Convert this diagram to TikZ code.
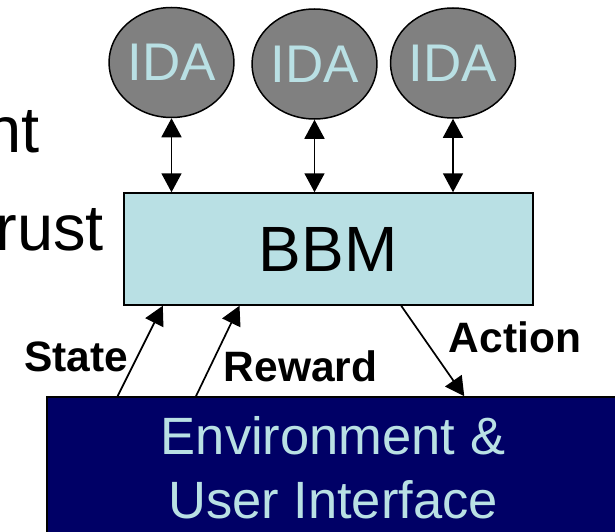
\documentclass[tikz,border=0pt]{standalone}
\usepackage{fontspec}
\setmainfont{Liberation Sans}
\usetikzlibrary{shapes.geometric,arrows.meta}
\definecolor{paleblue}{HTML}{B9E0E4}
\definecolor{agentgray}{HTML}{808080}
\definecolor{envnavy}{HTML}{000066}
\tikzset{
  agent/.style={ellipse, draw=black, line width=1.5pt, fill=agentgray,
    minimum width=107pt, minimum height=110pt, inner sep=0pt,
    text=paleblue, font=\fontsize{53}{60}\selectfont},
  bbmbox/.style={rectangle, draw=black, line width=1.5pt, fill=paleblue,
    minimum width=409pt, minimum height=112pt, inner sep=0pt,
    font=\fontsize{64}{70}\selectfont},
  envbox/.style={rectangle, draw=black, line width=1.5pt, fill=envnavy,
    minimum width=573pt, minimum height=143pt, inner sep=0pt},
  envtext/.style={inner sep=0pt, text=paleblue, font=\fontsize{52.5}{60}\selectfont},
  sidetext/.style={inner sep=0pt, font=\fontsize{65}{72}\selectfont},
  flowlabel/.style={inner sep=0pt, font=\bfseries\fontsize{42.5}{48}\selectfont},
  head/.tip={Triangle[width=20pt 0 0,length=19pt 0 0]},
  link/.style={line width=1.7pt, -head},
  dbl/.style={line width=1.7pt, head-head}
}
\begin{document}
\begin{tikzpicture}[x=1pt,y=-1pt]
\useasboundingbox (0,0) rectangle (615,532);
\begin{scope}
\clip (0,0) rectangle (615,532);

% slide text running in from the left edge
\node[sidetext, anchor=base east] (sidea) at (40,152) {nt};
\node[sidetext, anchor=base east] (sideb) at (104,250) {rust};

% environment block
\node[envbox] (env) at (333.5,468.5) {};
\node[envtext, anchor=base] (envl1) at (333,454.3) {Environment \&};
\node[envtext, anchor=base] (envl2) at (333,518) {User Interface};

% behaviour module
\node[bbmbox] (bbm) at (328.25,249) {BBM};

% agents
\node[agent] (ida1) at (171.5,62.5) {IDA};
\node[agent] (ida2) at (314.5,64) {IDA};
\node[agent] (ida3) at (453,63) {IDA};
\end{scope}

% agent <-> module links
\draw[dbl] (ida1.south) -- (ida1.south |- bbm.north);
\draw[dbl] (ida2.south) -- (ida2.south |- bbm.north);
\draw[dbl] (ida3.south) -- (ida3.south |- bbm.north);

% environment <-> module flows
\draw[link] ([xshift=71.3pt]env.north west) -- ([xshift=39.8pt]bbm.south west);
\draw[link] ([xshift=149.7pt]env.north west) -- ([xshift=116.5pt]bbm.south west);
\draw[link] ([xshift=278.2pt]bbm.south west) -- ([xshift=418pt]env.north west);

% flow labels
\node[flowlabel, anchor=base] (lstate) at (76,371) {State};
\node[flowlabel, anchor=base] (lreward) at (300.5,381.7) {Reward};
\node[flowlabel, anchor=base] (laction) at (515,352.7) {Action};
\end{tikzpicture}
\end{document}
